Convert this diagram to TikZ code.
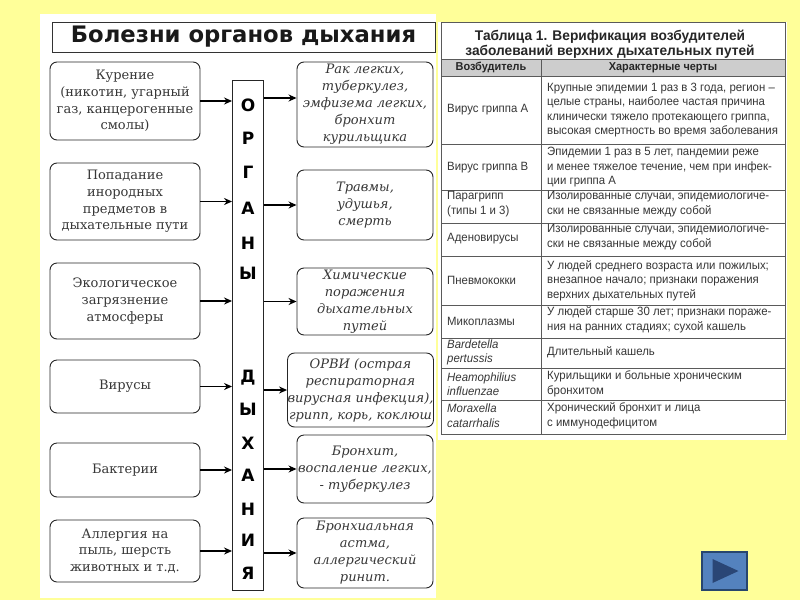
\documentclass[tikz,border=0pt]{standalone}
\usepackage{fontspec}
\setmainfont{DejaVu Serif}
\newfontfamily\tabfont[FakeStretch=0.95]{Liberation Sans}
\newfontfamily\ttlfont[FakeStretch=0.98]{Liberation Sans}
\newfontfamily\headfont{DejaVu Sans}
\usetikzlibrary{arrows.meta}
\definecolor{bgyellow}{RGB}{255,255,153}
\definecolor{ink}{RGB}{55,55,55}
\definecolor{tabline}{RGB}{90,90,90}
\definecolor{headgray}{RGB}{205,205,205}
\definecolor{navblue}{RGB}{84,130,190}
\definecolor{navborder}{RGB}{40,70,110}
\definecolor{navdark}{RGB}{42,70,118}
\tikzset{
  lbox/.style={draw=black!85, line width=0.9pt, rounded corners=7pt, minimum width=150pt,
    align=center, text=ink, inner sep=0pt, font=\fontsize{13}{16.8}\selectfont},
  rbox/.style={draw=black!85, line width=0.9pt, rounded corners=7pt, minimum width=136pt,
    align=center, text=ink, inner sep=0pt, font=\fontsize{13}{17}\selectfont\itshape},
  vletter/.style={font=\headfont\bfseries\fontsize{17}{17}\selectfont, text=black, inner sep=0pt},
  arr/.style={line width=1.5pt, -{Stealth[length=8pt,width=7pt]}},
  tcell/.style={anchor=west, align=left, inner sep=0pt, text=ink, font=\tabfont\fontsize{12}{14.5}\selectfont},
  thead/.style={inner sep=0pt, text=black!85, font=\tabfont\bfseries\fontsize{11.5}{12}\selectfont},
  tline/.style={draw=tabline, line width=0.8pt}
}
\begin{document}
\begin{tikzpicture}[x=1pt,y=-1pt]
\useasboundingbox (0,0) rectangle (800,600);
\fill[bgyellow] (0,0) rectangle (800,600);
% panels
\fill[white] (40,14) rectangle (436,598);
\fill[white] (438,22) rectangle (787,440);

% title
\node[draw=black!80, line width=0.8pt, minimum width=383pt, minimum height=30pt, inner sep=0pt,
  font=\headfont\bfseries\fontsize{22.7}{22}\selectfont, text=black!90] (title) at (243.5,37) {Болезни органов дыхания};

% left boxes
\node[lbox, minimum height=78pt] (L1) at (125,101) {Курение\\(никотин, угарный\\газ, канцерогенные\\смолы)};
\node[lbox, minimum height=77pt] (L2) at (125,201.5) {Попадание\\инородных\\предметов в\\дыхательные пути};
\node[lbox, minimum height=76pt] (L3) at (125,301) {Экологическое\\загрязнение\\атмосферы};
\node[lbox, minimum height=53pt] (L4) at (125,386.5) {Вирусы};
\node[lbox, minimum height=54pt] (L5) at (125,470) {Бактерии};
\node[lbox, minimum height=62pt] (L6) at (125,551) {Аллергия на\\пыль, шерсть\\животных и т.д.};

% vertical box
\node[draw=black!85, line width=0.9pt, minimum width=31pt, minimum height=510pt, inner sep=0pt] (V) at (248,335) {};
\foreach \l/\yy [count=\i] in {О/105,Р/138,Г/172,А/208,Н/243,Ы/273,Д/378,Ы/409,Х/443,А/475,Н/509,И/540,Я/573}
  \node[vletter] (v\i) at (248,\yy) {\l};

% right boxes
\node[rbox, minimum height=85pt] (R1) at (365,104.5) {Рак легких,\\туберкулез,\\эмфизема легких,\\бронхит\\курильщика};
\node[rbox, minimum height=70pt] (R2) at (365,205) {Травмы,\\удушья,\\смерть};
\node[rbox, minimum height=67pt] (R3) at (365,301.5) {Химические\\поражения\\дыхательных\\путей};
\node[rbox, minimum width=145pt, minimum height=74pt] (R4) at (360.5,390) {ОРВИ (острая\\респираторная\\вирусная инфекция),\\грипп, корь, коклюш};
\node[rbox, minimum height=68pt] (R5) at (365,469) {Бронхит,\\воспаление легких,\\- туберкулез};
\node[rbox, minimum height=70pt] (R6) at (365,553) {Бронхиальная\\астма,\\аллергический\\ринит.};

% arrows left -> V
\foreach \n in {L1,L2,L3,L4,L5,L6}
  \draw[arr] (\n.east) -- (\n.east -| V.west);
% arrows V -> right
\draw[arr] (V.east |- 0,98) -- (R1.west |- 0,98);
\foreach \n in {R2,R3,R4,R5,R6}
  \draw[arr] (V.east |- \n.west) -- (\n.west);

% table
\fill[headgray] (441,59) rectangle (785,76);
\draw[tline] (441,22) rectangle (785,434);
\foreach \yy in {59,76,144,190,223,256,305,338,368,400}
  \draw[tline] (441,\yy) -- (785,\yy);
\draw[tline] (541,59) -- (541,434);

\node[inner sep=0pt, align=center, text=black!85, font=\ttlfont\bfseries\fontsize{14}{15}\selectfont] (ttitle) at (610,44.5)
  {Таблица 1. Верификация возбудителей\\заболеваний верхних дыхательных путей};
\node[thead] (h1) at (491,67.5) {Возбудитель};
\node[thead] (h2) at (663,67.5) {Характерные черты};

\node[tcell] (a1) at (447,110) {Вирус гриппа А};
\node[tcell] (a2) at (547,110) {Крупные эпидемии 1 раз в 3 года, регион –\\целые страны, наиболее частая причина\\клинически тяжело протекающего гриппа,\\высокая смертность во время заболевания};
\node[tcell] (b1) at (447,167.5) {Вирус гриппа В};
\node[tcell] (b2) at (547,167.5) {Эпидемии 1 раз в 5 лет, пандемии реже\\и менее тяжелое течение, чем при инфек-\\ции гриппа А};
\node[tcell] (c1) at (447,204) {Парагрипп\\(типы 1 и 3)};
\node[tcell] (c2) at (547,204) {Изолированные случаи, эпидемиологиче-\\ски не связанные между собой};
\node[tcell] (d1) at (447,239) {Аденовирусы};
\node[tcell] (d2) at (547,237) {Изолированные случаи, эпидемиологиче-\\ски не связанные между собой};
\node[tcell] (e1) at (447,280.5) {Пневмококки};
\node[tcell] (e2) at (547,280.5) {У людей среднего возраста или пожилых;\\внезапное начало; признаки поражения\\верхних дыхательных путей};
\node[tcell] (f1) at (447,321) {Микоплазмы};
\node[tcell] (f2) at (547,320) {У людей старше 30 лет; признаки пораже-\\ния на ранних стадиях; сухой кашель};
\node[tcell, font=\tabfont\itshape\fontsize{12}{14}\selectfont] (g1) at (447,352) {Bardetella\\pertussis};
\node[tcell] (g2) at (547,352) {Длительный кашель};
\node[tcell, font=\tabfont\itshape\fontsize{12}{14}\selectfont] (h1c) at (447,384) {Heamophilius\\influenzae};
\node[tcell] (h2c) at (547,384) {Курильщики и больные хроническим\\бронхитом};
\node[tcell, font=\tabfont\itshape\fontsize{12}{15}\selectfont] (i1) at (447,416) {Moraxella\\catarrhalis};
\node[tcell, font=\tabfont\fontsize{12}{15}\selectfont] (i2) at (547,416) {Хронический бронхит и лица\\с иммунодефицитом};

% nav button
\node[draw=navborder, fill=navblue, line width=1.2pt, minimum width=45pt, minimum height=38pt, inner sep=0pt] (nav) at (724.5,571) {};
\fill[navdark] ([shift={(-12,-12)}]nav.center) -- ([shift={(14,0)}]nav.center) -- ([shift={(-12,12)}]nav.center) -- cycle;
\end{tikzpicture}
\end{document}
